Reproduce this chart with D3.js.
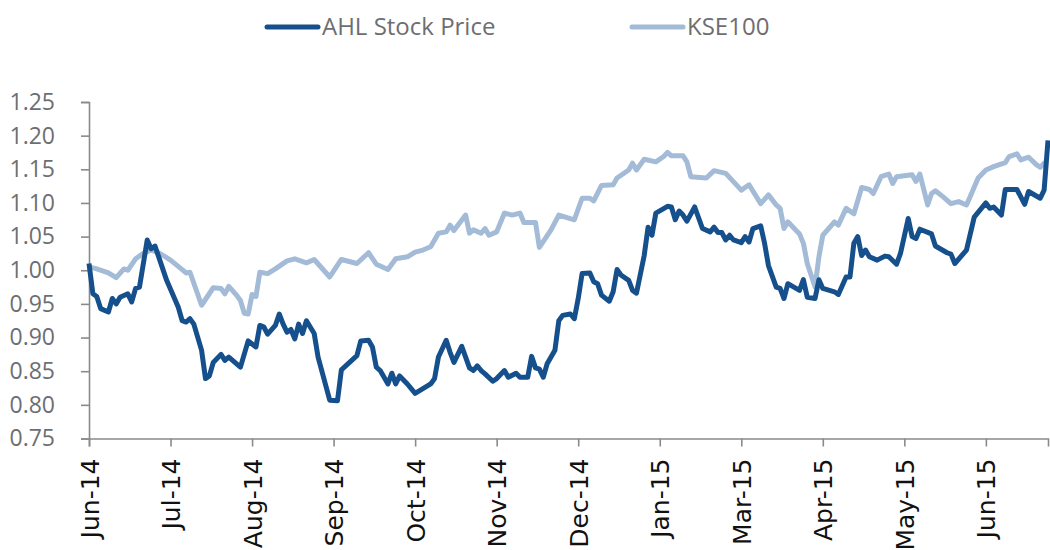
<!DOCTYPE html>
<html>
<head>
<meta charset="utf-8">
<script src="https://cdn.jsdelivr.net/npm/d3@7"></script>
<style>
  body { margin: 0; background: #fff; }
  .yaxis text { font-family: "Open Sans", sans-serif; font-size: 23px; fill: #6d6e71; }
  .xaxis text { font-family: "DejaVu Sans", sans-serif; font-size: 25px; fill: #111; }
  .legend text { font-family: "Open Sans", sans-serif; font-size: 24px; fill: #6d6e71; }
</style>
</head>
<body>
<div id="chart"></div>
<script>
// month labels sit every 21 trading days (category axis, Feb-15 not labelled)
var monthLabels = ["Jun-14", "Jul-14", "Aug-14", "Sep-14", "Oct-14", "Nov-14", "Dec-14", "Jan-15", "Mar-15", "Apr-15", "May-15", "Jun-15"];
var monthTickDays = [0, 21, 42, 63, 84, 105, 126, 147, 168, 189, 210, 231];
var yTicks = [0.75, 0.80, 0.85, 0.90, 0.95, 1.00, 1.05, 1.10, 1.15, 1.20, 1.25];

// AHL stock price, rebased (trading day index, value)
var ahlDays = [0, 1, 2, 3, 5, 6, 7, 8, 10, 11, 12, 13, 15, 16, 17, 20, 23, 24, 25, 26, 27, 29, 30, 31, 32, 34, 35, 36, 39, 41, 43, 44, 45, 46, 48, 49, 50, 51, 52, 53, 54, 55, 56, 58, 59, 62, 64, 65, 69, 70, 72, 73, 74, 75, 77, 78, 79, 80, 82, 84, 86, 88, 89, 90, 92, 93, 94, 96, 98, 99, 100, 101, 102, 104, 105, 107, 108, 110, 111, 113, 114, 115, 116, 117, 118, 120, 121, 122, 124, 125, 126, 127, 129, 130, 131, 132, 134, 135, 136, 137, 139, 140, 141, 143, 144, 145, 146, 149, 150, 151, 152, 153, 154, 156, 158, 160, 161, 162, 163, 164, 165, 166, 168, 169, 170, 171, 173, 174, 175, 177, 178, 179, 180, 183, 184, 185, 187, 188, 189, 192, 193, 195, 196, 197, 198, 199, 200, 201, 203, 205, 206, 208, 209, 211, 212, 213, 214, 217, 218, 221, 222, 223, 226, 228, 231, 232, 233, 235, 236, 239, 241, 242, 245, 246, 247];
var ahlValues = [1.010, 0.965, 0.961, 0.943, 0.938, 0.958, 0.950, 0.960, 0.965, 0.953, 0.973, 0.975, 1.045, 1.032, 1.036, 0.985, 0.945, 0.925, 0.923, 0.928, 0.920, 0.881, 0.839, 0.843, 0.863, 0.875, 0.866, 0.871, 0.856, 0.895, 0.886, 0.918, 0.916, 0.905, 0.918, 0.935, 0.920, 0.908, 0.912, 0.898, 0.920, 0.906, 0.925, 0.906, 0.871, 0.807, 0.806, 0.852, 0.873, 0.895, 0.896, 0.886, 0.856, 0.851, 0.831, 0.847, 0.831, 0.843, 0.831, 0.817, 0.824, 0.831, 0.839, 0.871, 0.896, 0.878, 0.863, 0.887, 0.855, 0.851, 0.858, 0.851, 0.846, 0.835, 0.839, 0.851, 0.841, 0.847, 0.841, 0.841, 0.872, 0.855, 0.853, 0.841, 0.861, 0.881, 0.925, 0.933, 0.935, 0.928, 0.958, 0.995, 0.996, 0.983, 0.980, 0.963, 0.954, 0.968, 1.001, 0.993, 0.985, 0.970, 0.966, 1.022, 1.064, 1.052, 1.085, 1.095, 1.094, 1.075, 1.088, 1.082, 1.073, 1.094, 1.062, 1.057, 1.064, 1.056, 1.056, 1.045, 1.052, 1.045, 1.041, 1.050, 1.042, 1.062, 1.066, 1.040, 1.007, 0.975, 0.973, 0.958, 0.980, 0.970, 0.986, 0.960, 0.958, 0.986, 0.973, 0.968, 0.964, 0.990, 0.990, 1.040, 1.050, 1.022, 1.030, 1.020, 1.015, 1.021, 1.020, 1.009, 1.025, 1.077, 1.050, 1.047, 1.061, 1.054, 1.036, 1.026, 1.024, 1.010, 1.030, 1.079, 1.100, 1.092, 1.094, 1.082, 1.120, 1.120, 1.098, 1.117, 1.107, 1.119, 1.193];

// KSE100 index, rebased
var kseDays = [0, 2, 5, 7, 9, 10, 12, 14, 16, 18, 21, 24, 25, 26, 29, 32, 34, 35, 36, 38, 39, 40, 41, 42, 43, 44, 46, 48, 51, 53, 56, 58, 62, 65, 69, 72, 74, 77, 79, 82, 84, 86, 88, 90, 92, 93, 94, 97, 98, 99, 101, 102, 103, 105, 107, 109, 111, 112, 115, 116, 119, 121, 125, 127, 129, 130, 132, 135, 136, 139, 140, 141, 143, 146, 148, 149, 150, 153, 154, 155, 159, 161, 164, 168, 170, 173, 175, 177, 178, 179, 180, 183, 184, 185, 187, 188, 189, 192, 193, 195, 197, 199, 201, 202, 204, 206, 207, 208, 212, 213, 214, 216, 217, 218, 220, 222, 224, 226, 227, 229, 231, 233, 236, 237, 239, 240, 242, 244, 245, 246, 247];
var kseValues = [1.005, 1.002, 0.996, 0.989, 1.002, 1.000, 1.017, 1.025, 1.030, 1.026, 1.015, 1.001, 0.996, 0.997, 0.948, 0.974, 0.973, 0.965, 0.976, 0.963, 0.955, 0.936, 0.935, 0.964, 0.961, 0.997, 0.995, 1.002, 1.014, 1.017, 1.011, 1.016, 0.990, 1.016, 1.010, 1.026, 1.009, 1.001, 1.017, 1.020, 1.027, 1.030, 1.035, 1.055, 1.057, 1.067, 1.059, 1.082, 1.055, 1.060, 1.055, 1.062, 1.052, 1.057, 1.085, 1.082, 1.085, 1.071, 1.071, 1.034, 1.060, 1.082, 1.075, 1.107, 1.107, 1.103, 1.126, 1.127, 1.137, 1.149, 1.159, 1.149, 1.165, 1.161, 1.169, 1.175, 1.170, 1.170, 1.161, 1.139, 1.137, 1.148, 1.144, 1.119, 1.127, 1.099, 1.112, 1.097, 1.092, 1.062, 1.072, 1.054, 1.040, 1.010, 0.975, 1.020, 1.052, 1.072, 1.067, 1.092, 1.084, 1.123, 1.120, 1.114, 1.139, 1.143, 1.129, 1.139, 1.142, 1.132, 1.143, 1.097, 1.114, 1.118, 1.109, 1.099, 1.102, 1.097, 1.110, 1.137, 1.149, 1.154, 1.160, 1.169, 1.173, 1.164, 1.168, 1.157, 1.153, 1.159, 1.160];

var seriesNames = ["AHL Stock Price", "KSE100"];
var seriesColors = ["#16508c", "#a3bbd6"];

var W = 1050, H = 550;
var svg = d3.select("#chart").append("svg")
    .attr("width", W)
    .attr("height", H);

var xScale = d3.scaleLinear().domain([0, 247]).range([89, 1048]);
var yScale = d3.scaleLinear().domain([0.75, 1.25]).range([438.5, 102]);

// axes
var yAxis = d3.axisLeft(yScale).tickValues(yTicks).tickFormat(d3.format(".2f")).tickSize(8).tickPadding(26);
var xAxis = d3.axisBottom(xScale).tickValues(monthTickDays)
    .tickFormat(function(d, i) { return monthLabels[i]; }).tickSize(8);

var gy = svg.append("g").attr("class", "yaxis")
    .attr("transform", "translate(" + xScale(0) + ",0)")
    .call(yAxis);
gy.select(".domain").attr("stroke", "#8a8a8a").attr("stroke-width", 1.6);
gy.selectAll(".tick line").attr("stroke", "#8a8a8a").attr("stroke-width", 1.6);

var gx = svg.append("g").attr("class", "xaxis")
    .attr("transform", "translate(0," + yScale(0.75) + ")")
    .call(xAxis);
gx.select(".domain").attr("stroke", "#8a8a8a").attr("stroke-width", 1.6);
gx.selectAll(".tick line").attr("stroke", "#8a8a8a").attr("stroke-width", 1.6);
gx.selectAll(".tick text")
    .attr("text-anchor", "end")
    .attr("dy", "0.36em")
    .attr("x", -20)
    .attr("y", 0)
    .attr("transform", "rotate(-90)");

// lines
var line = d3.line()
    .x(function(d) { return xScale(d[0]); })
    .y(function(d) { return yScale(d[1]); });

var ahlData = d3.zip(ahlDays, ahlValues);
var kseData = d3.zip(kseDays, kseValues);

svg.append("path")
    .attr("d", line(kseData))
    .attr("fill", "none")
    .attr("stroke", seriesColors[1])
    .attr("stroke-width", 5)
    .attr("stroke-linejoin", "round");

svg.append("path")
    .attr("d", line(ahlData))
    .attr("fill", "none")
    .attr("stroke", seriesColors[0])
    .attr("stroke-width", 5)
    .attr("stroke-linejoin", "round");

// legend
var legendX = [267, 632];
var legend = svg.append("g").attr("class", "legend");
seriesNames.forEach(function(name, i) {
  legend.append("line")
      .attr("x1", legendX[i]).attr("x2", legendX[i] + 51)
      .attr("y1", 27).attr("y2", 27)
      .attr("stroke", seriesColors[i])
      .attr("stroke-width", 5)
      .attr("stroke-linecap", "round");
  legend.append("text")
      .attr("x", legendX[i] + 55)
      .attr("y", 35)
      .text(name);
});
</script>
</body>
</html>
